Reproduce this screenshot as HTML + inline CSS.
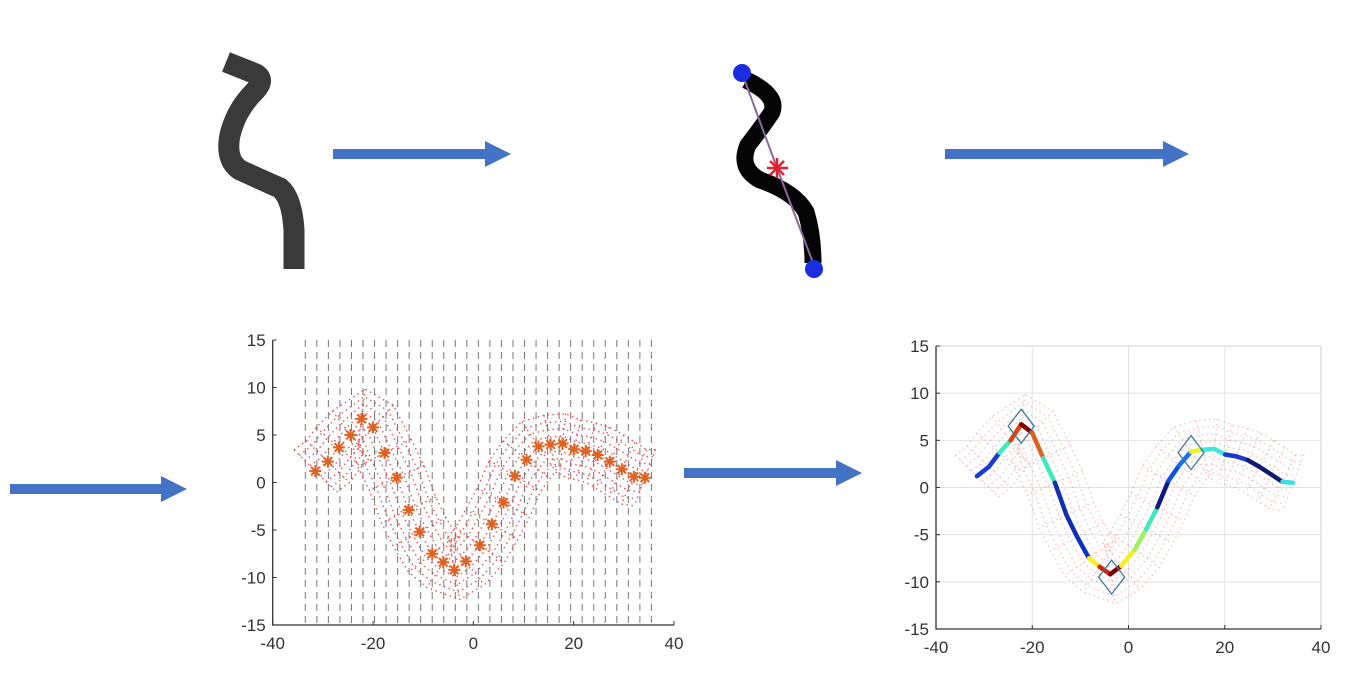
<!DOCTYPE html>
<html><head><meta charset="utf-8">
<style>
html,body{margin:0;padding:0;background:#fff;}
svg{display:block;font-family:"Liberation Sans",sans-serif;}
</style></head>
<body>
<svg id="fig" width="1348" height="684" viewBox="0 0 1348 684" xmlns="http://www.w3.org/2000/svg">
  <path d="M226,62 L256,74 Q266,80 254,92 Q236,110 230,135 Q225,160 240,170 Q262,180 280,188 Q292,198 294,230 L294,269" fill="none" stroke="#3a3a3a" stroke-width="21" stroke-linejoin="round"/>
  <g>
    <path d="M746,80 Q778,95 772,112 Q760,130 748,145 Q738,168 760,180 Q795,192 806,212 Q813,235 813,263" fill="none" stroke="#050505" stroke-width="17" stroke-linejoin="round"/>
    <path d="M742,73 L777,168 L815,268" fill="none" stroke="#8a6a9a" stroke-width="2"/>
    <circle cx="742" cy="73" r="9" fill="#1a2ee0"/>
    <circle cx="814" cy="269" r="9" fill="#1a2ee0"/>
    <g stroke="#e02030" stroke-width="2.5">
      <line x1="767" y1="168" x2="788" y2="168"/><line x1="777" y1="158" x2="777" y2="178"/>
      <line x1="770" y1="161" x2="784" y2="175"/><line x1="784" y1="161" x2="770" y2="175"/>
    </g>
  </g>
  <g fill="#4472C4">
    <path d="M333,149 L485,149 L485,141 L511,154 L485,167 L485,159 L333,159 Z"/>
    <path d="M945,149 L1163,149 L1163,141 L1189,154 L1163,167 L1163,159 L945,159 Z"/>
    <path d="M10,484 L161,484 L161,476 L187,489 L161,502 L161,494 L10,494 Z"/>
    <path d="M684,468 L836,468 L836,460 L862,473 L836,486 L836,478 L684,478 Z"/>
  </g>
  <g id="left-chart"></g>
  <g id="right-chart"></g>
</svg>
<script>
const xs = [-31.5,-29,-26.8,-24.5,-22.3,-20,-17.7,-15.3,-12.9,-10.7,-8.2,-6,-3.8,-1.5,1.3,3.7,6,8.3,10.6,13,15.4,17.8,20.1,22.4,24.8,27.2,29.6,32,34.2];
const ys = [1.2,2.2,3.7,5,6.7,5.8,3.1,0.5,-2.9,-5.2,-7.5,-8.4,-9.2,-8.3,-6.6,-4.4,-2.1,0.7,2.4,3.8,4,4.1,3.5,3.3,2.9,2.2,1.4,0.6,0.5];
const xTicks = [-40,-20,0,20,40];
const yTicks = [15,10,5,0,-5,-10,-15];
const segColors = ["#1a3ad0","#1a3ad0","#40e8c0","#e04010","#800000","#e06020","#40e8c0","#1030b0","#1030b0","#1030c0","#f0f020","#d02010","#800000","#f0f020","#a0f060","#40e8c0","#101880","#1050e0","#1e70f0","#f0f020","#40e8e0","#40e8e0","#1a3ad0","#1a3ad0","#101870","#101870","#101870","#40e0e0"];
const diamondX = [-22.3,-3.5,13];
const diamondY = [6.5,-9.5,3.7];
const NS="http://www.w3.org/2000/svg";
function mk(tag,attrs,parent){const e=document.createElementNS(NS,tag);for(const k in attrs)e.setAttribute(k,attrs[k]);parent.appendChild(e);return e;}
function offsets(sx,sy,k){
  const pts=[];
  for(let i=0;i<xs.length;i++){
    const a=Math.max(0,i-2),b=Math.min(xs.length-1,i+2);
    let dx=sx(xs[b])-sx(xs[a]),dy=sy(ys[b])-sy(ys[a]);const L=Math.hypot(dx,dy);
    pts.push([sx(xs[i])-dy/L*k,sy(ys[i])+dx/L*k]);
  }
  return pts;
}
function band(g,sx,sy,op,name){
  const bg=mk('g',{opacity:op},g);
  
  
  for(let k=-30;k<=30;k+=7.5){
    const p=offsets(sx,sy,k);
    const pl=mk('polyline',{points:p.map(q=>q.join(',')).join(' '),fill:'none',stroke:'#e03030','stroke-width':1.4,'stroke-dasharray':'1.4 3.6'},bg);
    
    
  }
  const pa=offsets(sx,sy,-30),pb=offsets(sx,sy,30);
  for(let i=0;i<xs.length;i++){
    const l=mk('line',{x1:pa[i][0],y1:pa[i][1],x2:pb[i][0],y2:pb[i][1],stroke:'#e03030','stroke-width':1.4,'stroke-dasharray':'1.4 3.6'},bg);
    
    
  }
}
function axes(g,sx,sy,x0,x1,y0,y1,box){
  if(box){
    for(const t of xTicks){const l=mk('line',{x1:sx(t),x2:sx(t),y1:y0,y2:y1,stroke:'#e2e2e2','stroke-width':1},g);}
    for(const t of yTicks){const l=mk('line',{x1:x0,x2:x1,y1:sy(t),y2:sy(t),stroke:'#e2e2e2','stroke-width':1},g);}
    const r=mk('rect',{x:x0,y:y1,width:x1-x0,height:y0-y1,fill:'none',stroke:'#d0d0d0'},g);
    
  }
  const ax=mk('path',{d:`M${x0},${y1} L${x0},${y0} L${x1},${y0}`,fill:'none',stroke:'#333','stroke-width':1.3},g);
  
  for(const t of xTicks){
    mk('line',{x1:sx(t),x2:sx(t),y1:y0,y2:y0-4,stroke:'#333'},g);
    const tx=mk('text',{x:sx(t),y:y0+24,'text-anchor':'middle','font-size':17,fill:'#333'},g);
    tx.textContent=t;
  }
  for(const t of yTicks){
    mk('line',{x1:x0,x2:x0+4,y1:sy(t),y2:sy(t),stroke:'#333'},g);
    const tx=mk('text',{x:x0-7,y:sy(t)+6,'text-anchor':'end','font-size':17,fill:'#333'},g);
    tx.textContent=t;
  }
}
(function(){
  const g=document.getElementById('left-chart');
  const sx=v=>272.7+(v+40)*401.3/80, sy=v=>340+(15-v)*285/30;
  axes(g,sx,sy,272.7,674,625,340,false);
  for(let i=0;i<31;i++){
    const x=-33.5+i*2.3;
    const l=mk('line',{x1:sx(x),x2:sx(x),y1:sy(15),y2:sy(-14.8),stroke:'#777','stroke-width':1,'stroke-dasharray':'7 5'},g);
    
  }
  band(g,sx,sy,0.85,'sample-band');
  for(let i=0;i<xs.length;i++){
    const cx=sx(xs[i]),cy=sy(ys[i]);
    const s=mk('path',{d:`M${cx-6},${cy} L${cx+6},${cy} M${cx},${cy-6} L${cx},${cy+6} M${cx-4.3},${cy-4.3} L${cx+4.3},${cy+4.3} M${cx+4.3},${cy-4.3} L${cx-4.3},${cy+4.3}`,stroke:'#e06020','stroke-width':2},g);
    
  }
})();
(function(){
  const g=document.getElementById('right-chart');
  const sx=v=>936+(v+40)*385/80, sy=v=>346+(15-v)*283/30;
  axes(g,sx,sy,936,1321,629,346,true);
  band(g,sx,sy,0.3,'curvature-band');
  for(let i=0;i<xs.length-1;i++){
    const l=mk('line',{x1:sx(xs[i]),y1:sy(ys[i]),x2:sx(xs[i+1]),y2:sy(ys[i+1]),stroke:segColors[i],'stroke-width':4.5,'stroke-linecap':'round'},g);
    
  }
  for(let i=0;i<diamondX.length;i++){
    const cx=sx(diamondX[i]),cy=sy(diamondY[i]);
    const d=mk('path',{d:`M${cx},${cy-17} L${cx+13},${cy} L${cx},${cy+17} L${cx-13},${cy} Z`,fill:'none',stroke:'#3a7a9a','stroke-width':1.3},g);
    
  }
})();
</script>
</body></html>
